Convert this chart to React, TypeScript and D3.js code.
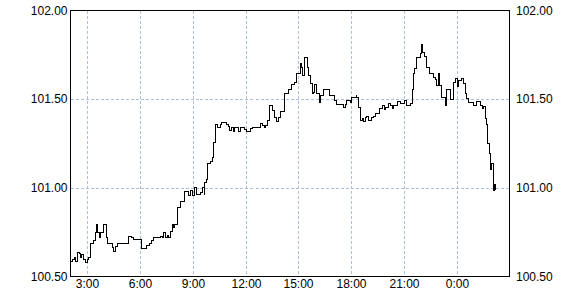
import React from "react";
import * as d3 from "d3";

const times = [
  "02:02","02:09","02:16","02:18","02:25","02:32","02:36","02:38","02:45","02:52",
  "02:59","03:04","03:11","03:22","03:26","03:31","03:33","03:42","03:45","03:54",
  "04:03","04:07","04:26","04:30","04:34","04:41","05:20","05:29","05:38","06:03",
  "06:22","06:30","06:37","06:46","07:07","07:14","07:20","07:27","07:32","07:36",
  "07:41","07:48","07:52","07:57","08:06","08:17","08:31","08:45","08:49","08:58",
  "09:03","09:10","09:12","09:26","09:32","09:37","09:39","09:46","09:48","10:00",
  "10:04","10:08","10:10","10:17","10:23","10:32","10:37","10:53","11:00","11:03",
  "11:10","11:17","11:21","11:35","11:42","11:56","12:02","12:16","12:23","12:50",
  "12:55","13:01","13:06","13:13","13:19","13:31","13:38","13:45","13:51","13:58",
  "14:10","14:23","14:34","14:44","14:53","15:04","15:09","15:13","15:18","15:20",
  "15:29","15:34","15:38","15:45","15:50","15:54","16:01","16:10","16:15","16:24",
  "16:44","17:02","17:09","17:32","17:37","17:41","17:55","17:59","18:15","18:17",
  "18:24","18:29","18:35","18:40","18:45","18:51","18:58","19:07","19:14","19:21",
  "19:34","19:44","19:50","19:55","20:04","20:11","20:18","20:22","20:34","20:45",
  "20:52","20:58","21:05","21:20","21:25","21:30","21:35","21:40","21:53","21:59",
  "22:02","22:09","22:15","22:26","22:38","22:45","22:50","22:56","22:58","23:06",
  "23:19","23:24","23:35","23:47","23:54","00:00","00:03","00:14","00:19","00:26",
  "00:32","00:37","00:53","01:06","01:18","01:25","01:29","01:34","01:38","01:43",
  "01:48","01:52","01:54","02:01","02:03","02:05","02:10"
];

const prices = [
  100.585,100.594,100.609,100.585,100.637,100.628,100.609,100.624,100.596,100.581,
  100.596,100.609,100.684,100.703,100.750,100.793,100.750,100.722,100.750,100.793,
  100.722,100.684,100.665,100.641,100.671,100.684,100.727,100.718,100.707,100.656,
  100.675,100.688,100.703,100.718,100.727,100.718,100.746,100.722,100.731,100.722,
  100.752,100.793,100.775,100.793,100.891,100.925,100.981,100.957,100.985,100.957,
  101.000,100.985,100.961,100.975,101.000,100.961,101.028,101.045,101.136,101.148,
  101.173,101.201,101.254,101.357,101.342,101.357,101.370,101.357,101.348,101.323,
  101.339,101.319,101.339,101.319,101.339,101.327,101.319,101.333,101.342,101.364,
  101.352,101.339,101.352,101.380,101.463,101.436,101.395,101.376,101.398,101.432,
  101.530,101.553,101.581,101.596,101.643,101.699,101.677,101.633,101.684,101.733,
  101.680,101.633,101.587,101.530,101.539,101.583,101.530,101.483,101.521,101.553,
  101.521,101.492,101.470,101.455,101.470,101.492,101.483,101.508,101.521,101.508,
  101.455,101.380,101.389,101.376,101.395,101.402,101.380,101.395,101.402,101.421,
  101.446,101.464,101.440,101.451,101.477,101.463,101.446,101.464,101.489,101.477,
  101.474,101.492,101.464,101.474,101.555,101.643,101.671,101.733,101.759,101.807,
  101.761,101.741,101.679,101.643,101.624,101.609,101.577,101.643,101.577,101.511,
  101.464,101.553,101.496,101.596,101.615,101.571,101.605,101.615,101.587,101.530,
  101.502,101.483,101.464,101.489,101.464,101.446,101.459,101.389,101.357,101.250,
  101.192,101.103,101.136,101.019,100.985,101.019,100.985
];

const yTicks = [100.5, 101.0, 101.5, 102.0];
const xStart = "02:02";
const xEnd = "02:57";

type Pt = { date: Date; value: number };

function toDate(s: string, day: number) {
  const [h, m] = s.split(":").map(Number);
  return new Date(2024, 0, 1 + day, h, m);
}

export default function App() {
  const W = 580, H = 300;
  const left = 70.5, right = 509.5, top = 10.5, bottom = 276.5;

  let day = 0;
  let prev = -1;
  const data: Pt[] = times.map((t, i) => {
    const [h, m] = t.split(":").map(Number);
    const mins = h * 60 + m;
    if (mins < prev) day++;
    prev = mins;
    return { date: new Date(2024, 0, 1 + day, h, m), value: prices[i] };
  });

  const x = d3.scaleTime().domain([toDate(xStart, 0), toDate(xEnd, 1)]).range([left, right]);
  const y = d3.scaleLinear().domain([100.5, 102]).range([bottom, top]);
  const [d0, d1] = x.domain();
  const xTicks = d3.timeHour.every(3)!.range(d0, d1);
  const fmt = d3.timeFormat("%-H:%M");
  const yFmt = d3.format(".2f");

  const line = d3
    .line<Pt>()
    .x((d) => x(d.date))
    .y((d) => y(d.value))
    .curve(d3.curveStepAfter);

  const gridColor = "#b0c0d8";
  const font = "'Liberation Sans', Arial, sans-serif";

  return (
    <svg
      width={W}
      height={H}
      style={{ position: "fixed", left: 0, top: 0, background: "#fff" }}
      fontFamily={font}
      fontSize={12}
    >
      <rect x={0} y={0} width={W} height={H} fill="#fff" />
      {/* vertical grid */}
      {xTicks.map((t, i) => {
        const px = Math.floor(x(t)) + 0.5;
        return (
          <line key={"vg" + i} x1={px} x2={px} y1={top} y2={bottom}
            stroke={gridColor} strokeDasharray="3,2" shapeRendering="crispEdges" />
        );
      })}
      {/* horizontal grid */}
      {yTicks.filter((v) => v > 100.5 && v < 102).map((v, i) => {
        const py = Math.round(y(v)) + 0.5;
        return (
          <line key={"hg" + i} x1={left} x2={right} y1={py} y2={py}
            stroke={gridColor} strokeDasharray="3,2" shapeRendering="crispEdges" />
        );
      })}
      {/* data line */}
      <path d={line(data) || ""} fill="none" stroke="#000" strokeWidth={1} shapeRendering="crispEdges" />
      {/* frame */}
      <rect x={left} y={top} width={right - left} height={bottom - top}
        fill="none" stroke="#000" strokeWidth={1} shapeRendering="crispEdges" />
      {/* y labels left */}
      {yTicks.map((v, i) => (
        <text key={"yl" + i} x={67.5} y={y(v)} dy="0.35em" textAnchor="end" fill="#000">
          {yFmt(v)}
        </text>
      ))}
      {/* y labels right */}
      {yTicks.map((v, i) => (
        <text key={"yr" + i} x={516} y={y(v)} dy="0.35em" textAnchor="start" fill="#000">
          {yFmt(v)}
        </text>
      ))}
      {/* x labels */}
      {xTicks.map((t, i) => (
        <text key={"xl" + i} x={Math.floor(x(t)) + 0.5} y={288} textAnchor="middle" fill="#000">
          {fmt(t)}
        </text>
      ))}
    </svg>
  );
}
